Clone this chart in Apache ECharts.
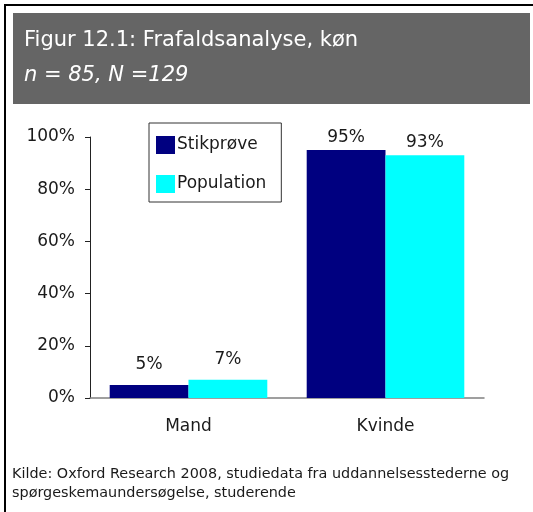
<!DOCTYPE html>
<html>
<head>
<meta charset="utf-8">
<script src="https://cdn.jsdelivr.net/npm/echarts@6/dist/echarts.min.js"></script>
<style>
  html, body { margin: 0; padding: 0; background: #fff; }
  #chart { width: 533px; height: 512px; }
</style>
</head>
<body>
<div id="chart"></div>
<script>
// data
var categories = ['Mand', 'Kvinde'];
var stikproeve = [5, 95];
var population = [7, 93];
var seriesNames = ['Stikprøve', 'Population'];

var titleText = 'Figur 12.1: Frafaldsanalyse, køn';
var subText = 'n = 85, N =129';
var sourceLines = [
  'Kilde: Oxford Research 2008, studiedata fra uddannelsesstederne og',
  'spørgeskemaundersøgelse, studerende'
];

var chart = echarts.init(document.getElementById('chart'));

// tall bars have their label squeezed closer to the top in the original
function withLabels(values) {
  return values.map(function (v) {
    return { value: v, label: { distance: v > 50 ? 4 : 12 } };
  });
}

var labelStyle = {
  show: true,
  position: 'top',
  fontFamily: 'DejaVu Sans',
  fontSize: 17,
  color: '#1a1a1a',
  formatter: '{c}%'
};

var option = {
  animation: false,
  backgroundColor: '#fff',
  grid: { left: 90, right: 49, top: 137, bottom: 114 },
  legend: {
    left: 149,
    top: 123,
    orient: 'vertical',
    padding: [13, 15, 9, 7],
    itemWidth: 19,
    itemHeight: 18,
    itemGap: 21,
    borderColor: '#333',
    borderWidth: 1,
    borderRadius: 0,
    icon: 'rect',
    textStyle: { fontFamily: 'DejaVu Sans', fontSize: 17, color: '#1a1a1a', padding: [0, 0, 0, -3] },
    data: seriesNames
  },
  xAxis: {
    type: 'category',
    data: categories,
    axisLine: { lineStyle: { color: '#808080', width: 1.5 } },
    axisTick: { show: false },
    axisLabel: { fontFamily: 'DejaVu Sans', fontSize: 17, color: '#1a1a1a', margin: 20 }
  },
  yAxis: {
    type: 'value',
    min: 0,
    max: 100,
    interval: 20,
    axisLine: { show: true, lineStyle: { color: '#222', width: 1 } },
    axisTick: { show: true, length: 5, lineStyle: { color: '#222' } },
    splitLine: { show: false },
    axisLabel: { fontFamily: 'DejaVu Sans', fontSize: 17, color: '#1a1a1a', margin: 15, formatter: '{value}%' }
  },
  series: [
    {
      name: seriesNames[0],
      type: 'bar',
      data: withLabels(stikproeve),
      barGap: '0%',
      barCategoryGap: '20%',
      itemStyle: { color: '#000080' },
      label: labelStyle
    },
    {
      name: seriesNames[1],
      type: 'bar',
      data: withLabels(population),
      itemStyle: { color: '#00ffff' },
      label: labelStyle
    }
  ],
  graphic: {
    elements: [
      { type: 'line', shape: { x1: 5, y1: 5, x2: 533, y2: 5 }, style: { stroke: '#000', lineWidth: 2 } },
      { type: 'line', shape: { x1: 5, y1: 4, x2: 5, y2: 512 }, style: { stroke: '#000', lineWidth: 2 } },
      { type: 'rect', shape: { x: 13, y: 13, width: 517, height: 91 }, style: { fill: '#656565' } },
      {
        type: 'text', left: 24, top: 30,
        style: { text: titleText, font: '21px "DejaVu Sans"', fill: '#fff' }
      },
      {
        type: 'text', left: 24, top: 65,
        style: { text: subText, font: 'italic 21px "DejaVu Sans"', fill: '#fff' }
      },
      {
        type: 'text', left: 12, top: 465,
        style: { text: sourceLines.join('\n'), font: '14.4px "DejaVu Sans"', lineHeight: 19, fill: '#1a1a1a' }
      }
    ]
  }
};

chart.setOption(option);
</script>
</body>
</html>
